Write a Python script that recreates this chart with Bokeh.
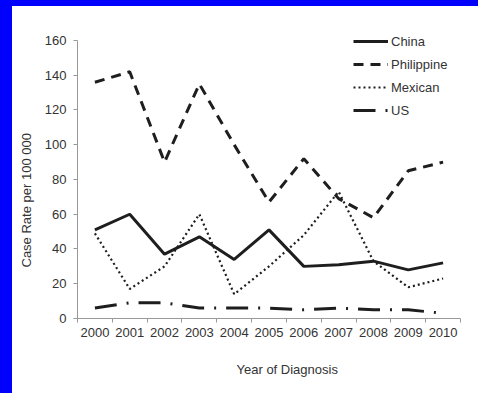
from bokeh.plotting import figure
from bokeh.models import FixedTicker, Legend, LegendItem, GlobalInlineStyleSheet, Title
from bokeh.embed import file_html
from bokeh.resources import INLINE

years = [2000, 2001, 2002, 2003, 2004, 2005, 2006, 2007, 2008, 2009, 2010]
china = [51, 60, 37, 47, 34, 51, 30, 31, 33, 28, 32]
philippine = [136, 142, 90, 135, 100, 67, 92, 69, 58, 85, 90]
mexican = [49, 17, 30, 60, 14, 30, 48, 73, 33, 18, 23]
us = [6, 9, 9, 6, 6, 6, 5, 6, 5, 5, 3]
y_ticks = [0, 20, 40, 60, 80, 100, 120, 140, 160]
x_title = "Year of Diagnosis"
y_title = "Case Rate per 100 000"

FONT = "Liberation Sans"
TXT = "#333333"
AX = "#999999"
LC = "#1e1e1e"

p = figure(frame_width=383, frame_height=288,
           min_border_left=64, min_border_right=19,
           min_border_top=24, min_border_bottom=75,
           x_range=(years[0] - 0.5, years[-1] + 0.5), y_range=(0, 165.755),
           output_backend="svg", toolbar_location=None,
           background_fill_color="white", border_fill_color="white")
p.outline_line_color = None
p.grid.visible = False
p.stylesheets = [GlobalInlineStyleSheet(css=(
    "html, body { background: #ffffff !important; overflow: hidden !important; }"
    "body { margin: 0 !important; padding: 6px 0 0 12px !important; }"
    "body::before { content: ''; position: fixed; left: 0; top: 0; width: 12px; height: 100%; background: #0000ff; z-index: 10; }"
    "body::after { content: ''; position: fixed; left: 0; top: 0; width: 100%; height: 6px; background: #0000ff; z-index: 10; }"))]

r_china = p.line(years, china, line_color=LC, line_width=3)
r_phil = p.line(years, philippine, line_color=LC, line_width=3, line_dash="10 7")
r_mex = p.line(years, mexican, line_color=LC, line_width=2.2, line_dash="2 3")
r_us = p.line(years, us, line_color=LC, line_width=3, line_dash="22 10 2 10")

xa = p.xaxis[0]
xa.ticker = FixedTicker(ticks=years, minor_ticks=[y - 0.5 for y in years] + [years[-1] + 0.5])
xa.major_tick_line_color = None
xa.major_tick_out = 4
xa.major_tick_in = 0
xa.minor_tick_line_color = AX
xa.minor_tick_out = 4
xa.minor_tick_in = 0
xa.major_label_standoff = 5

ya = p.yaxis[0]
ya.ticker = FixedTicker(ticks=y_ticks)
ya.bounds = (y_ticks[0], y_ticks[-1])
ya.major_tick_line_color = AX
ya.major_tick_out = 4
ya.major_tick_in = 0
ya.minor_tick_line_color = None
ya.major_label_standoff = 7

for ax in (xa, ya):
    ax.axis_line_color = AX
    ax.major_label_text_font = FONT
    ax.major_label_text_font_size = "13px"
    ax.major_label_text_color = TXT

tb = Title(text=x_title, align="left", offset=159, standoff=40,
           text_font=FONT, text_font_size="13px", text_font_style="normal", text_color=TXT)
p.add_layout(tb, "below")
tl = Title(text=y_title, align="left", offset=51, standoff=12, vertical_align="top",
           text_font=FONT, text_font_size="13px", text_font_style="normal", text_color=TXT)
p.add_layout(tl, "left")

legend = Legend(items=[
    LegendItem(label="China", renderers=[r_china]),
    LegendItem(label="Philippine", renderers=[r_phil]),
    LegendItem(label="Mexican", renderers=[r_mex]),
    LegendItem(label="US", renderers=[r_us]),
], location=(276, 198))
legend.background_fill_alpha = 0
legend.border_line_color = None
legend.padding = 0
legend.margin = 0
legend.spacing = 3
legend.glyph_width = 35
legend.glyph_height = 20
legend.label_standoff = 3
legend.label_text_font = FONT
legend.label_text_font_size = "13px"
legend.label_text_color = TXT
p.add_layout(legend)

open("out.html", "w").write(file_html(p, INLINE))
